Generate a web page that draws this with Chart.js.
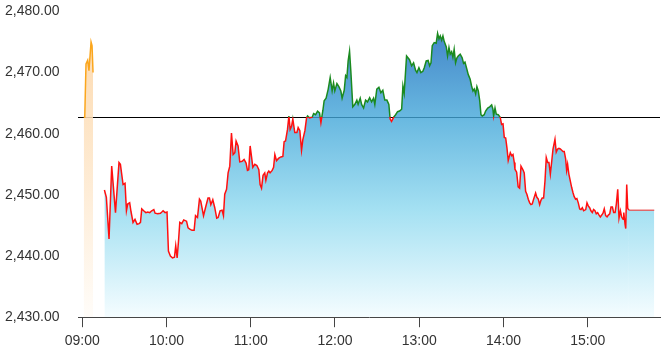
<!DOCTYPE html>
<html>
<head>
<meta charset="utf-8">
<script src="https://cdn.jsdelivr.net/npm/chart.js@4.4.1/dist/chart.umd.min.js"></script>
<style>
  html, body { margin: 0; padding: 0; background: #fff; }
  #wrap { width: 664px; height: 358px; position: relative; }
</style>
</head>
<body>
<div id="wrap"><canvas id="priceChart"></canvas></div>
<script>
// minutes after 09:00
const hourTicks = [0, 60, 120, 180, 240, 300, 360];
const hourLabels = ['09:00', '10:00', '11:00', '12:00', '13:00', '14:00', '15:00'];
const priceTicks = [2430, 2440, 2450, 2460, 2470, 2480];

const prevClose = 2462.7;
const closeTime = 389.4; // after this the last price is just carried

// pre-market
const preTimes = [1.1, 1.8, 2.7, 3.9, 4.8, 6.3, 7.0, 7.7];
const prePrices = [2462.7, 2462.7, 2471.4, 2472.0, 2470.3, 2475.0, 2474.4, 2470.0];

// session
const mainTimes = [
  15.8, 17.2, 19.1, 21.0, 23.7, 26.2, 27.2, 29.1, 30.5, 31.5, 32.4, 33.8, 34.8, 36.2, 37.6, 39.1,
  40.5, 41.5, 42.4, 43.8, 45.3, 46.7, 48.1, 49.5, 51.0, 51.9, 53.8, 55.7, 56.7, 57.6, 59.0, 60.4,
  61.4, 62.8, 64.3, 65.7, 66.6, 67.6, 68.6, 69.5, 70.9, 72.3, 74.3, 75.4, 76.6, 78.2, 79.7, 80.7,
  82.1, 83.5, 84.4, 86.4, 87.8, 89.6, 90.6, 91.6, 93.0, 94.4, 95.8, 96.8, 98.2, 99.6, 100.6, 101.5,
  102.8, 103.9, 105.1, 106.3, 107.5, 108.7, 109.6, 111.0, 112.2, 113.9, 115.3, 116.7, 117.7, 118.6,
  119.6, 120.6, 121.5, 122.9, 124.4, 125.8, 126.7, 127.7, 128.8, 130.0, 130.8, 132.0, 132.9, 133.8,
  135.3, 136.3, 137.2, 138.4, 140.0, 141.5, 142.9, 143.8, 144.8, 146.2, 147.2, 148.1, 149.1, 150.0,
  151.4, 152.9, 153.8, 155.0, 156.2, 157.1, 158.6, 159.8,
  160.5, 161.9, 163.8, 164.8, 166.2, 167.6, 169.0, 170.0, 171.4, 172.3, 173.7, 175.2, 176.6, 178.0,
  179.0, 179.9, 181.4, 182.8, 184.2, 185.1, 186.6, 187.6, 188.5, 189.4, 190.4, 191.3, 192.7, 194.2,
  195.6, 196.5, 198.0, 199.0, 200.4, 201.8, 203.2, 204.7, 206.1, 207.5, 208.4, 209.8, 211.3, 212.7,
  214.1, 215.5, 217.0, 218.4, 219.3, 220.3, 221.8, 223.2, 224.6, 226.0, 227.5, 228.4, 229.3, 231.0,
  233.1, 234.6, 236.0, 237.4, 238.4, 239.8, 241.2, 242.6, 243.6, 245.0, 246.4, 247.4, 248.4, 249.3,
  250.7, 252.1, 253.1, 254.1, 255.0, 256.0, 256.9, 257.8, 259.3, 260.2, 261.2, 262.1, 263.1, 264.0,
  264.9, 265.9, 266.9, 267.8, 269.2, 270.6, 271.6, 272.6, 274.0, 274.9, 276.3, 277.3, 278.3, 279.2,
  280.2, 281.1, 282.1, 283.1, 284.0, 284.9, 286.3, 287.3, 288.8, 290.2, 291.6, 292.5, 293.0, 294.0,
  294.9, 296.3, 297.7, 298.7, 299.7, 300.6, 301.6, 302.5, 303.4, 304.9, 305.9, 306.8, 307.7, 308.2,
  309.4, 310.5, 311.5, 312.5, 313.9, 314.8, 315.8, 316.7, 317.7, 318.7, 319.6, 320.5, 321.5, 322.9,
  323.8, 324.8, 325.8, 326.7, 327.6, 328.6, 329.6, 330.5, 331.5, 332.4, 333.4, 334.3, 335.3, 336.7,
  337.6, 338.6, 339.5, 340.5, 341.5, 342.4, 343.3, 344.3, 345.0, 345.7, 346.6, 347.6, 348.6, 349.5,
  350.4, 351.4, 352.3, 353.3, 354.3, 355.2, 356.2, 357.1, 358.6, 359.5, 360.4, 361.4, 362.3, 363.3,
  364.2, 365.2, 366.1, 367.1, 368.1, 369.0, 370.0, 370.9, 371.8, 372.8, 373.8, 374.7, 375.7, 376.6,
  377.6, 378.5, 379.5, 380.4, 381.4, 382.3, 383.3, 384.2, 385.2, 385.7, 386.6, 387.1, 387.8, 388.5,
  389.4, 407.4
];
const mainPrices = [
  2450.8, 2449.6, 2442.8, 2454.7, 2447.1, 2455.3, 2455.0, 2451.7, 2451.9, 2447.4, 2448.5, 2448.7, 2447.2, 2445.5, 2446.0, 2445.2,
  2445.3, 2445.5, 2447.7, 2447.4, 2447.1, 2447.2, 2447.1, 2447.4, 2447.6, 2447.0, 2446.9, 2447.0, 2447.2, 2447.4, 2447.1, 2447.2,
  2440.8, 2440.0, 2439.7, 2439.8, 2441.7, 2439.7, 2442.5, 2445.5, 2445.3, 2445.9, 2445.7, 2444.6, 2444.4, 2444.2, 2444.2, 2446.6,
  2446.3, 2449.3, 2449.0, 2446.6, 2447.9, 2449.5, 2449.5, 2448.4, 2449.2, 2447.9, 2446.2, 2446.3, 2447.4, 2447.5, 2446.6, 2450.1,
  2450.9, 2453.6, 2454.7, 2460.1, 2456.6, 2456.9, 2458.8, 2458.0, 2455.4, 2455.5, 2455.8, 2455.2, 2454.0, 2454.1,
  2458.0, 2456.2, 2454.5, 2455.0, 2454.8, 2454.1, 2451.7, 2451.1, 2453.2, 2453.6, 2452.4, 2453.6, 2453.9, 2453.6,
  2454.0, 2454.5, 2456.6, 2455.6, 2456.0, 2456.2, 2456.3, 2458.7, 2458.8, 2460.7, 2462.9, 2460.7, 2461.2, 2462.4,
  2460.2, 2460.2, 2461.0, 2460.5, 2457.3, 2459.0, 2460.5, 2462.6,
  2462.9, 2462.6, 2462.7, 2463.3, 2463.1, 2463.7, 2463.4, 2461.8, 2463.8, 2465.4, 2465.8, 2467.3, 2469.2, 2467.0,
  2468.3, 2467.0, 2468.2, 2467.7, 2467.0, 2465.8, 2467.1, 2469.5, 2469.2, 2471.9, 2473.5, 2470.3, 2464.4, 2464.8,
  2465.5, 2464.8, 2465.8, 2464.8, 2464.2, 2465.5, 2465.2, 2465.9, 2465.2, 2465.8, 2464.8, 2467.3, 2467.6, 2466.7,
  2467.1, 2465.5, 2465.5, 2464.8, 2462.4, 2462.0, 2462.7, 2463.1, 2463.6, 2463.7, 2464.0, 2467.8, 2466.6, 2472.7,
  2472.1, 2471.1, 2471.6, 2470.4, 2470.0, 2470.8, 2470.0, 2470.2, 2470.8, 2471.9, 2472.0, 2471.1, 2471.6, 2474.4,
  2474.9, 2474.8, 2476.4, 2475.5, 2476.0, 2475.3, 2476.0, 2475.1, 2474.2, 2472.7, 2474.1, 2473.0, 2473.4, 2472.5,
  2473.8, 2471.6, 2472.4, 2472.7, 2473.0, 2472.4, 2471.5, 2471.7, 2470.5, 2469.7, 2468.9, 2467.8, 2467.0, 2467.3,
  2466.5, 2467.7, 2467.0, 2465.4, 2463.1, 2462.9, 2463.1, 2463.7, 2464.2, 2464.4, 2464.7, 2464.0, 2462.9, 2464.2,
  2463.2, 2463.1, 2462.7, 2461.5, 2461.6, 2459.4, 2459.3, 2457.7, 2455.6, 2456.9, 2456.4, 2456.6, 2455.3, 2454.2,
  2453.7, 2451.3, 2451.1, 2454.7, 2454.1, 2453.6, 2450.6, 2450.1, 2449.3, 2448.7, 2448.4, 2448.5, 2449.3, 2450.3,
  2449.6, 2449.3, 2448.4, 2449.1, 2449.5, 2449.5, 2452.3, 2456.1, 2455.3, 2455.3, 2453.4, 2455.3, 2457.5, 2459.1,
  2457.0, 2457.5, 2457.6, 2457.5, 2457.3, 2457.1, 2457.1, 2455.9, 2454.0, 2455.0, 2453.4, 2452.3, 2451.2, 2450.4,
  2449.7, 2449.3, 2449.4, 2448.7, 2447.7, 2447.6, 2447.9, 2447.4, 2447.6, 2448.7, 2448.2, 2447.9, 2447.4, 2447.1,
  2447.6, 2447.4, 2446.9, 2447.1, 2446.7, 2446.4, 2446.7, 2447.0, 2447.7, 2446.6, 2446.4, 2446.7, 2446.9, 2448.0,
  2448.0, 2447.1, 2447.1, 2448.5, 2450.9, 2446.2, 2447.4, 2446.4, 2446.0, 2447.1, 2445.2, 2444.5, 2451.7, 2447.8,
  2447.5, 2447.5
];

const fontFamily = "'Liberation Sans', Arial, sans-serif";

function toPoints(xs, ys) {
  return xs.map((x, i) => ({ x: x, y: ys[i] }));
}

// line is green above the previous close, red below it
function upDownColor(ctx) {
  const chart = ctx.chart;
  const area = chart.chartArea;
  if (!area) return 'red';
  const yPx = chart.scales.y.getPixelForValue(prevClose);
  const t = Math.min(1, Math.max(0, (yPx - area.top) / (area.bottom - area.top)));
  const g = chart.ctx.createLinearGradient(0, area.top, 0, area.bottom);
  g.addColorStop(0, '#1a8a1f');
  g.addColorStop(t, '#1a8a1f');
  g.addColorStop(t, '#ff1010');
  g.addColorStop(1, '#ff1010');
  return g;
}

function blueFill(ctx) {
  const chart = ctx.chart;
  const area = chart.chartArea;
  if (!area) return 'rgba(120,200,230,0.6)';
  const g = chart.ctx.createLinearGradient(0, area.top, 0, area.bottom);
  g.addColorStop(0, 'rgba(10,90,180,0.8)');
  g.addColorStop(0.35, 'rgba(67,167,217,0.8)');
  g.addColorStop(0.65, 'rgba(142,217,239,0.8)');
  g.addColorStop(1, 'rgba(242,252,255,0.8)');
  return g;
}

function orangeFill(ctx) {
  const chart = ctx.chart;
  const area = chart.chartArea;
  if (!area) return 'rgba(253,220,180,0.8)';
  const g = chart.ctx.createLinearGradient(0, area.top, 0, area.bottom);
  g.addColorStop(0, 'rgba(252,208,155,0.85)');
  g.addColorStop(0.4, 'rgba(253,225,190,0.85)');
  g.addColorStop(1, 'rgba(255,252,248,0.85)');
  return g;
}

// previous close, drawn under the fills on a whole pixel row
const prevCloseLine = {
  id: 'prevCloseLine',
  beforeDatasetsDraw(chart) {
    const { ctx, chartArea, scales } = chart;
    const y = Math.round(scales.y.getPixelForValue(prevClose)) + 0.5;
    ctx.save();
    ctx.strokeStyle = '#000';
    ctx.lineWidth = 1;
    ctx.beginPath();
    ctx.moveTo(chartArea.left, y);
    ctx.lineTo(chartArea.right, y);
    ctx.stroke();
    ctx.restore();
  }
};

new Chart(document.getElementById('priceChart'), {
  type: 'line',
  data: {
    datasets: [
      {
        label: 'pre',
        data: toPoints(preTimes, prePrices),
        borderColor: '#fba61c',
        borderWidth: 1.5,
        backgroundColor: orangeFill,
        fill: 'start',
        pointRadius: 0,
        tension: 0,
        order: 1
      },
      {
        label: 'price',
        data: toPoints(mainTimes, mainPrices),
        borderColor: upDownColor,
        borderWidth: 1.5,
        backgroundColor: blueFill,
        fill: 'start',
        pointRadius: 0,
        tension: 0,
        order: 2,
        segment: {
          borderColor: s => s.p0.parsed.x >= closeTime ? 'rgba(232,60,60,0.75)' : undefined
        }
      }
    ]
  },
  options: {
    responsive: true,
    maintainAspectRatio: false,
    animation: false,
    events: [],
    layout: { padding: { left: 5, right: 4, top: 10, bottom: 2 } },
    plugins: { legend: { display: false }, tooltip: { enabled: false } },
    scales: {
      x: {
        type: 'linear',
        min: -3,
        max: 411.5,
        afterBuildTicks: scale => { scale.ticks = hourTicks.map(v => ({ value: v })); },
        grid: { display: true, drawOnChartArea: false, drawTicks: true, tickLength: 10, color: '#444' },
        border: { display: true, color: '#444', width: 1 },
        ticks: {
          autoSkip: false,
          maxRotation: 0,
          padding: 6,
          color: '#333',
          font: { family: fontFamily, size: 14 },
          callback: (v, i) => hourLabels[i]
        }
      },
      y: {
        min: 2430,
        max: 2480,
        afterBuildTicks: scale => { scale.ticks = priceTicks.map(v => ({ value: v })); },
        afterFit: scale => { scale.width = 73; },
        grid: { display: false },
        border: { display: false },
        ticks: {
          crossAlign: 'far',
          color: '#333',
          font: { family: fontFamily, size: 14 },
          callback: v => v.toLocaleString('en-US', { minimumFractionDigits: 2, maximumFractionDigits: 2 })
        }
      }
    }
  },
  plugins: [prevCloseLine]
});
</script>
</body>
</html>
